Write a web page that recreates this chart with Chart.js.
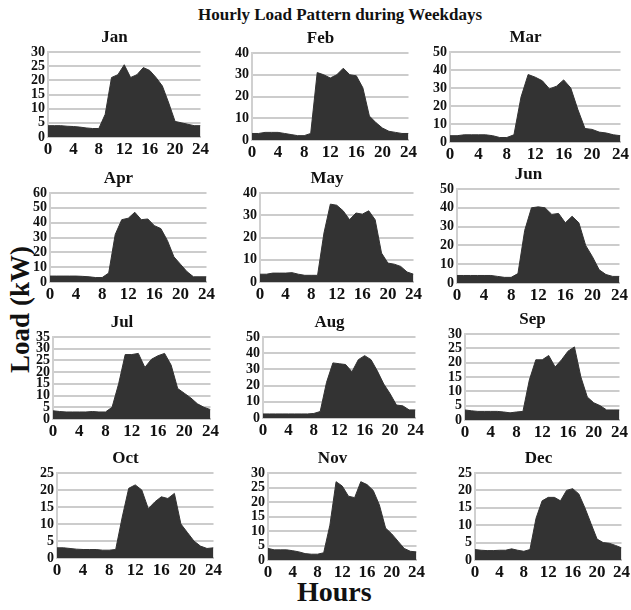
<!DOCTYPE html>
<html>
<head>
<meta charset="utf-8">
<script src="https://cdn.jsdelivr.net/npm/chart.js@4/dist/chart.umd.min.js"></script>
<style>
  body { margin: 0; background: #fff; }
  #wrap { position: relative; width: 631px; height: 610px; overflow: hidden; font-family: "Liberation Serif", "DejaVu Serif", serif; }
  .panel { position: absolute; }
  .lbl { position: absolute; font-weight: bold; color: #111; white-space: nowrap; }
</style>
</head>
<body>
<div id="wrap">
  <div class="lbl" style="left:198px; top:5px; font-size:17px;">Hourly Load Pattern during Weekdays</div>
  <div class="lbl" style="left:-50px; top:294px; font-size:27px; line-height:31px; transform: rotate(-90deg); width:140px; text-align:center;">Load (kW)</div>
  <div class="lbl" style="left:297px; top:576px; font-size:28px;">Hours</div>
</div>
<script>
const hours = [0, 1, 2, 3, 4, 5, 6, 7, 8, 9, 10, 11, 12, 13, 14, 15, 16, 17, 18, 19, 20, 21, 22, 23, 24];
const months = ['Jan', 'Feb', 'Mar', 'Apr', 'May', 'Jun', 'Jul', 'Aug', 'Sep', 'Oct', 'Nov', 'Dec'];

// load in kW, hour 0..24
const jan = [4, 4, 4, 3.8, 3.7, 3.5, 3.2, 3, 3, 8, 21, 22, 25.5, 21, 22, 24.5, 23.5, 21, 18, 12, 5.5, 5, 4.5, 4, 4];
const feb = [3, 3, 3.5, 3.5, 3.5, 3, 2.5, 2, 2, 3, 31, 30, 28.5, 30, 33, 30, 29.5, 24, 11, 8, 5.5, 4, 3.5, 3, 3];
const mar = [3.5, 3.5, 4, 4, 4, 4, 3.5, 2.5, 2.5, 4, 25, 37.5, 36, 34, 29.5, 31, 34.5, 30, 18, 7.5, 7, 5.5, 5, 4, 3.5];
const apr = [4, 4, 4, 4, 4, 3.8, 3.5, 3, 3, 6, 32, 42, 43, 47, 42, 42.5, 38, 36, 28, 17, 12, 7, 3.5, 3.5, 3.5];
const may = [3.5, 3.5, 4, 4, 4, 4.2, 3.5, 3, 3, 3, 22, 35, 34.5, 32, 28, 31, 30.5, 32, 28, 13, 8.5, 8, 7, 4.5, 3.5];
const jun = [4, 4, 4, 4, 4, 4, 3.5, 3, 3, 5, 28, 40, 40.5, 40, 36.5, 37, 32, 35.5, 32, 20, 14, 7, 4.5, 3.5, 3.5];
const jul = [3.5, 3.2, 3, 3, 3, 3, 3.2, 3, 3, 5, 15, 27.5, 27.5, 28, 22, 25.5, 27, 28, 23, 13, 11, 9, 6.5, 5, 4];
const aug = [2.5, 2.5, 2.5, 2.5, 2.5, 2.5, 2.5, 2.5, 2.8, 4, 22, 34, 33.5, 33, 28.5, 36, 38.5, 36, 29, 21, 15, 8, 7.5, 5, 5];
const sep = [3.5, 3.2, 3, 3, 3, 3, 2.8, 2.5, 2.8, 3, 14, 21, 21, 22.5, 18.5, 21, 24, 25.5, 15, 8, 6, 5, 3.5, 3.5, 3.5];
const oct = [3, 3, 2.8, 2.6, 2.5, 2.5, 2.5, 2.3, 2.3, 2.5, 12, 20.5, 21.5, 20, 14.5, 16.5, 18, 17.5, 19, 10, 7.5, 5, 3.5, 2.8, 3];
const nov = [4, 3.5, 3.5, 3.5, 3.2, 2.8, 2.2, 2, 2, 2.5, 12, 27, 25.5, 22, 21.5, 27, 26, 24, 19, 11, 9, 6.5, 4, 3, 2.8];
const dec = [3, 2.8, 2.7, 2.7, 2.8, 2.8, 3.2, 2.8, 2.5, 3, 12, 17, 18, 18, 17, 20, 20.5, 19, 15, 10.5, 6, 5, 4.8, 4.2, 3.5];

const series = [jan, feb, mar, apr, may, jun, jul, aug, sep, oct, nov, dec];
const yMax = [30, 40, 50, 60, 40, 50, 35, 50, 30, 25, 30, 25];
const yStep = [5, 10, 10, 10, 10, 10, 5, 10, 5, 5, 5, 5];

// plot area of each panel [left, top, right, bottom]
const boxes = [
  [48, 52, 202, 137], [252, 53, 410, 140], [450, 52, 622, 142],
  [50, 193, 208, 282], [260, 193, 415, 282], [457, 189, 621, 283],
  [53, 337, 212, 419], [263, 337, 417, 418], [465, 334, 621, 420],
  [57, 473, 215, 558], [268, 473, 418, 560], [475, 473, 623, 560]
];

const AXW = 30, TITLEH = 24, XAXH = 22, RPAD = 9;
const wrap = document.getElementById('wrap');

months.forEach((m, i) => {
  const [l, t, r, b] = boxes[i];
  const canvas = document.createElement('canvas');
  canvas.className = 'panel';
  const w = (r - l) + AXW + RPAD;
  const h = (b - t) + TITLEH + XAXH;
  canvas.width = w;
  canvas.height = h;
  canvas.style.left = (l - AXW) + 'px';
  canvas.style.top = (t - TITLEH) + 'px';
  canvas.style.width = w + 'px';
  canvas.style.height = h + 'px';
  wrap.appendChild(canvas);

  new Chart(canvas.getContext('2d'), {
    type: 'line',
    data: {
      datasets: [{
        data: hours.map((x, k) => ({ x: x, y: series[i][k] })),
        fill: 'origin',
        backgroundColor: '#333333',
        borderColor: '#333333',
        borderWidth: 1,
        pointRadius: 0,
        tension: 0
      }]
    },
    options: {
      responsive: false,
      animation: false,
      events: [],
      layout: { padding: 0 },
      plugins: {
        legend: { display: false },
        tooltip: { enabled: false },
        title: {
          display: true,
          text: m,
          color: '#111',
          font: { family: 'Liberation Serif', size: 17, weight: 'bold', lineHeight: 1 },
          padding: { top: 1, bottom: 6 }
        }
      },
      scales: {
        x: {
          type: 'linear',
          min: 0,
          max: 24,
          afterFit: s => { s.height = XAXH; },
          grid: { display: false, drawTicks: false },
          border: { display: true, color: '#c8c8c8', width: 2 },
          ticks: {
            stepSize: 4,
            padding: 2,
            maxRotation: 0,
            autoSkip: false,
            color: '#111',
            font: { family: 'Liberation Serif', size: 17, weight: 'bold' }
          }
        },
        y: {
          min: 0,
          max: yMax[i],
          afterFit: s => { s.width = AXW; },
          grid: { color: '#cccccc', lineWidth: 2, drawTicks: false },
          border: { display: true, color: '#d0d0d0', width: 2 },
          ticks: {
            stepSize: yStep[i],
            padding: 3,
            autoSkip: false,
            color: '#111',
            font: { family: 'Liberation Serif', size: 14, weight: 'bold', lineHeight: 1 }
          }
        }
      }
    }
  });
});
</script>
</body>
</html>
